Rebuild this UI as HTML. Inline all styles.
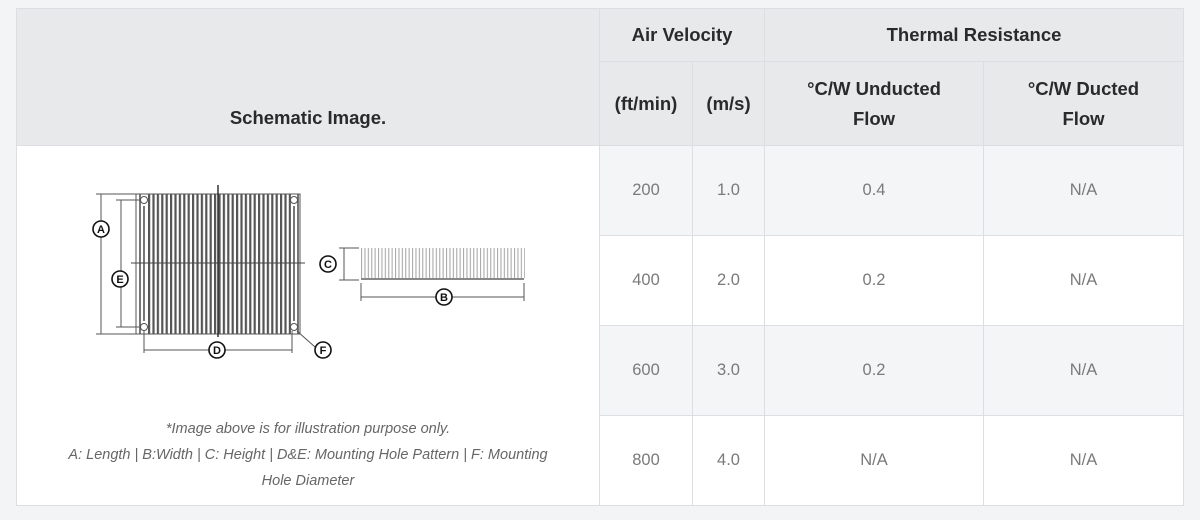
<!DOCTYPE html>
<html><head><style>
html,body{margin:0;padding:0;background:#f3f4f5;width:1200px;height:520px;overflow:hidden;font-family:"Liberation Sans",sans-serif;}
table{position:absolute;left:16px;top:8px;border-collapse:collapse;table-layout:fixed;width:1167px;}
td,th{border:1px solid #dcdee1;text-align:center;padding:0;}
th{background:#e8e9eb;color:#2a2a2a;font-weight:600;font-size:18.5px;line-height:30px;}
td{color:#7a7a7a;font-size:16.5px;height:89px;}
tr.s td.v{background:#f4f5f6;}
tr.w td.v{background:#fff;}
td.img{background:#fff;position:relative;vertical-align:top;}
.cap{position:absolute;left:0;right:0;top:270px;font-style:italic;font-size:14.5px;line-height:26px;color:#666;text-align:center;}
</style></head><body>
<table>
<colgroup><col style="width:583px"><col style="width:93px"><col style="width:72px"><col style="width:219px"><col style="width:200px"></colgroup>
<tr style="height:53px"><th rowspan="2" style="vertical-align:bottom;padding-bottom:12px">Schematic Image.</th><th colspan="2">Air Velocity</th><th colspan="2">Thermal Resistance</th></tr>
<tr style="height:84px"><th>(ft/min)</th><th>(m/s)</th><th>°C/W Unducted<br>Flow</th><th>°C/W Ducted<br>Flow</th></tr>
<tr class="s"><td class="img" rowspan="4">
<svg width="583" height="360" style="position:absolute;left:0;top:0" viewBox="16 145 583 360">
<defs>
<pattern id="pf" patternUnits="userSpaceOnUse" x="147" y="0" width="4.4" height="10"><rect x="0" y="0" width="2.2" height="10" fill="#555"/></pattern>
<pattern id="ps" patternUnits="userSpaceOnUse" x="360" y="0" width="3.4" height="10"><rect x="0" y="0" width="1.1" height="10" fill="#aaa"/></pattern>
</defs>
<g stroke="#555" fill="none" stroke-width="1">
<rect x="135" y="193" width="164" height="140" fill="#fff"/>
<rect x="147" y="193" width="143" height="140" fill="url(#pf)" stroke="none"/>
<g stroke="#555" stroke-width="1.6">
<path d="M139 193V333M143 205V320M293 205V320M297 193V333"/>
</g>
<line x1="130" y1="262" x2="304" y2="262" stroke="#444"/>
<line x1="217" y1="184" x2="217" y2="336" stroke="#333" stroke-width="1.5"/>
<circle cx="143" cy="199" r="3.5" fill="#fff"/><circle cx="293" cy="199" r="3.5" fill="#fff"/>
<circle cx="143" cy="326" r="3.5" fill="#fff"/><circle cx="293" cy="326" r="3.5" fill="#fff"/>
<path d="M95 193H135M95 333H135M100 193V333M115 199H140M115 326H140M120 199V326"/>
<path d="M143 330V352M291 330V352M143 349H291M296 330Q305 338 314 346"/>
<path d="M338 247H358M338 279H358M343 247V279M360 282V300M523 282V300M360 296H523"/>
<rect x="360" y="247" width="164" height="30" fill="url(#ps)" stroke="none"/>
<rect x="360" y="277" width="163" height="2" fill="#888" stroke="none"/>
</g>
<g font-family="Liberation Sans" font-weight="bold" font-size="11" text-anchor="middle" fill="#111">
<g stroke="#111" stroke-width="1.6" fill="#fff">
<circle cx="100" cy="228" r="8"/><circle cx="119" cy="278" r="8"/><circle cx="216" cy="349" r="8"/>
<circle cx="322" cy="349" r="8"/><circle cx="327" cy="263" r="8"/><circle cx="443" cy="296" r="8"/></g>
<text x="100" y="232">A</text><text x="119" y="282">E</text><text x="216" y="353">D</text>
<text x="322" y="353">F</text><text x="327" y="267">C</text><text x="443" y="300">B</text>
</g>
</svg>
<div class="cap">*Image above is for illustration purpose only.<br>A: Length | B:Width | C: Height | D&amp;E: Mounting Hole Pattern | F: Mounting<br>Hole Diameter</div>
</td><td class="v">200</td><td class="v">1.0</td><td class="v">0.4</td><td class="v">N/A</td></tr>
<tr class="w"><td class="v">400</td><td class="v">2.0</td><td class="v">0.2</td><td class="v">N/A</td></tr>
<tr class="s"><td class="v">600</td><td class="v">3.0</td><td class="v">0.2</td><td class="v">N/A</td></tr>
<tr class="w"><td class="v">800</td><td class="v">4.0</td><td class="v">N/A</td><td class="v">N/A</td></tr>
</table>
</body></html>
